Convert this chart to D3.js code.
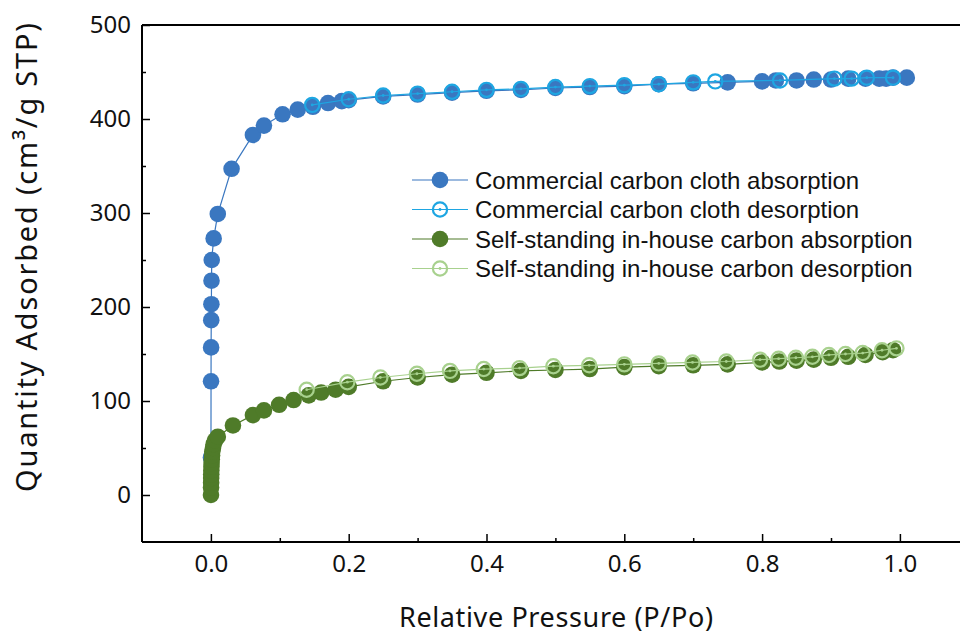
<!DOCTYPE html>
<html>
<head>
<meta charset="utf-8">
<script src="https://cdn.jsdelivr.net/npm/d3@7"></script>
<style>
  html, body { margin: 0; padding: 0; background: #fff; }
  svg { display: block; }
</style>
</head>
<body>
<svg id="chart" width="960" height="636"></svg>
<script>
// N2 isotherm data: [relative pressure P/Po, quantity adsorbed cm³/g STP]
const commercialAbsorption = [
  [0.0001, 40], [0.0002, 121], [0.0003, 157], [0.0005, 186], [0.0007, 203],
  [0.0009, 228], [0.0012, 250], [0.004, 273], [0.010, 299], [0.030, 347],
  [0.061, 383], [0.077, 393], [0.104, 405], [0.126, 410], [0.148, 413],
  [0.170, 417], [0.190, 419], [0.200, 420], [0.250, 424], [0.300, 426],
  [0.350, 428], [0.400, 430], [0.450, 431], [0.500, 433], [0.550, 434],
  [0.600, 435], [0.650, 437], [0.700, 438], [0.750, 439], [0.800, 440],
  [0.820, 441], [0.850, 441], [0.875, 442], [0.900, 442], [0.925, 443],
  [0.950, 443], [0.970, 443], [0.980, 443], [0.990, 444], [1.010, 444]
];
const commercialDesorption = [
  [0.990, 444], [0.952, 444], [0.930, 443], [0.905, 443], [0.826, 441],
  [0.732, 440], [0.700, 439], [0.650, 437], [0.600, 436], [0.550, 435],
  [0.500, 434], [0.450, 432], [0.400, 431], [0.350, 429], [0.300, 427],
  [0.250, 425], [0.200, 421], [0.147, 415]
];
const inhouseAbsorption = [
  [0.0001, 0], [0.0002, 8], [0.0003, 13], [0.0004, 18], [0.0005, 22],
  [0.0006, 26], [0.0008, 30], [0.0010, 34], [0.0013, 38], [0.0017, 42],
  [0.0020, 46], [0.0030, 50], [0.0040, 54], [0.0060, 58], [0.010, 62],
  [0.032, 74], [0.061, 85], [0.077, 90], [0.099, 96], [0.120, 101],
  [0.142, 106], [0.160, 109], [0.181, 112], [0.200, 115], [0.250, 121],
  [0.300, 125], [0.350, 128], [0.400, 130], [0.450, 132], [0.500, 133],
  [0.550, 134], [0.600, 136], [0.650, 137], [0.700, 138], [0.750, 139],
  [0.800, 141], [0.825, 142], [0.850, 143], [0.875, 144], [0.900, 146],
  [0.925, 147], [0.950, 149], [0.975, 152], [0.990, 154]
];
const inhouseDesorption = [
  [0.995, 156], [0.974, 154], [0.946, 151], [0.921, 150], [0.897, 149],
  [0.873, 147], [0.849, 146], [0.824, 145], [0.797, 144], [0.748, 142],
  [0.699, 141], [0.650, 140], [0.600, 139], [0.549, 138], [0.497, 137],
  [0.448, 135], [0.396, 134], [0.347, 132], [0.299, 129], [0.246, 125],
  [0.198, 120], [0.139, 112]
];

const seriesNames = [
  "Commercial carbon cloth absorption",
  "Commercial carbon cloth desorption",
  "Self-standing in-house carbon absorption",
  "Self-standing in-house carbon desorption"
];
const xMajorTicks = [0.0, 0.2, 0.4, 0.6, 0.8, 1.0];
const xMinorTicks = [0.1, 0.3, 0.5, 0.7, 0.9];
const yMajorTicks = [0, 100, 200, 300, 400, 500];
const yMinorTicks = [50, 150, 250, 350, 450];
const xTitle = "Relative Pressure (P/Po)";
const yTitle = "Quantity Adsorbed (cm\u00B3/g STP)";

const svg = d3.select("#chart");
const W = 960;

const x = d3.scaleLinear().domain([-0.1, 1.1]).range([142, 142 + 1.2 * 689]);
const y = d3.scaleLinear().domain([-50, 500]).range([542, 25]);

const tickFont = "'Noto Sans', 'Open Sans', sans-serif";

// Top frame line
svg.append("line").attr("x1", 142).attr("x2", W).attr("y1", y(500)).attr("y2", y(500))
  .attr("stroke", "#000").attr("stroke-width", 2);

// X axis
const gx = svg.append("g").attr("transform", `translate(0,${y(-50)})`);
gx.call(d3.axisBottom(x).tickValues(xMajorTicks).tickFormat(d3.format(".1f"))
  .tickSizeInner(-8).tickSizeOuter(0).tickPadding(13));
gx.select(".domain").attr("d", `M142,0H${W}`).attr("stroke-width", 2);
gx.selectAll(".tick line").attr("stroke-width", 1.5);
gx.selectAll("text").attr("font-family", tickFont).attr("font-size", 24).attr("fill", "#111");

const gxm = svg.append("g").attr("transform", `translate(0,${y(-50)})`);
gxm.call(d3.axisBottom(x).tickValues(xMinorTicks).tickFormat("")
  .tickSizeInner(-4).tickSizeOuter(0));
gxm.select(".domain").remove();
gxm.selectAll(".tick line").attr("stroke-width", 1.5);

// Y axis
const gy = svg.append("g").attr("transform", `translate(${x(-0.1)},0)`);
gy.call(d3.axisLeft(y).tickValues(yMajorTicks).tickFormat(d3.format("d"))
  .tickSizeInner(-8).tickSizeOuter(0).tickPadding(11));
gy.select(".domain").attr("d", `M0,${y(500)}V${y(-50)}`).attr("stroke-width", 2);
gy.selectAll(".tick line").attr("stroke-width", 1.5);
gy.selectAll("text").attr("font-family", tickFont).attr("font-size", 24).attr("fill", "#111");

const gym = svg.append("g").attr("transform", `translate(${x(-0.1)},0)`);
gym.call(d3.axisLeft(y).tickValues(yMinorTicks).tickFormat("")
  .tickSizeInner(-4).tickSizeOuter(0));
gym.select(".domain").remove();
gym.selectAll(".tick line").attr("stroke-width", 1.5);

// Axis titles
svg.append("text").attr("x", 556).attr("y", 627).attr("text-anchor", "middle")
  .attr("font-family", tickFont).attr("font-size", 27).attr("fill", "#111")
  .attr("textLength", 314).attr("lengthAdjust", "spacing").text(xTitle);
svg.append("text").attr("transform", "translate(37,257.5) rotate(-90)").attr("text-anchor", "middle")
  .attr("font-family", tickFont).attr("font-size", 29).attr("fill", "#111")
  .attr("textLength", 469).attr("lengthAdjust", "spacing").text(yTitle);

// Series
const styles = [
  { data: commercialAbsorption, color: "#3a77c0", filled: true },
  { data: commercialDesorption, color: "#1ea6e2", filled: false },
  { data: inhouseAbsorption, color: "#4f7b29", filled: true },
  { data: inhouseDesorption, color: "#a8d18e", filled: false }
];
const R = 8.3;
const line = d3.line().x(d => x(d[0])).y(d => y(d[1]));
const plot = svg.append("g");

function drawMarker(g, cx, cy, s) {
  if (s.filled) {
    g.append("circle").attr("cx", cx).attr("cy", cy).attr("r", R).attr("fill", s.color);
  } else {
    g.append("circle").attr("cx", cx).attr("cy", cy).attr("r", R - 1.2)
      .attr("fill", "none").attr("stroke", s.color).attr("stroke-width", 2.2);
    g.append("circle").attr("cx", cx).attr("cy", cy).attr("r", 1.4).attr("fill", s.color);
  }
}

styles.forEach(s => {
  plot.append("path").datum(s.data).attr("d", line)
    .attr("fill", "none").attr("stroke", s.color).attr("stroke-width", 1.2);
  const g = plot.append("g");
  s.data.forEach(d => drawMarker(g, x(d[0]), y(d[1]), s));
});

// Legend
const legend = svg.append("g");
const legendRows = [180, 209.5, 239, 268.5];
styles.forEach((s, i) => {
  const ly = legendRows[i];
  legend.append("line").attr("x1", 412).attr("x2", 468).attr("y1", ly).attr("y2", ly)
    .attr("stroke", s.color).attr("stroke-width", 1.2);
  drawMarker(legend, 440, ly, s);
  legend.append("text").attr("x", 475).attr("y", ly).attr("dy", "0.36em")
    .attr("font-family", "'Liberation Sans', Arial, sans-serif").attr("font-size", 24)
    .attr("fill", "#111").text(seriesNames[i]);
});
</script>
</body>
</html>
